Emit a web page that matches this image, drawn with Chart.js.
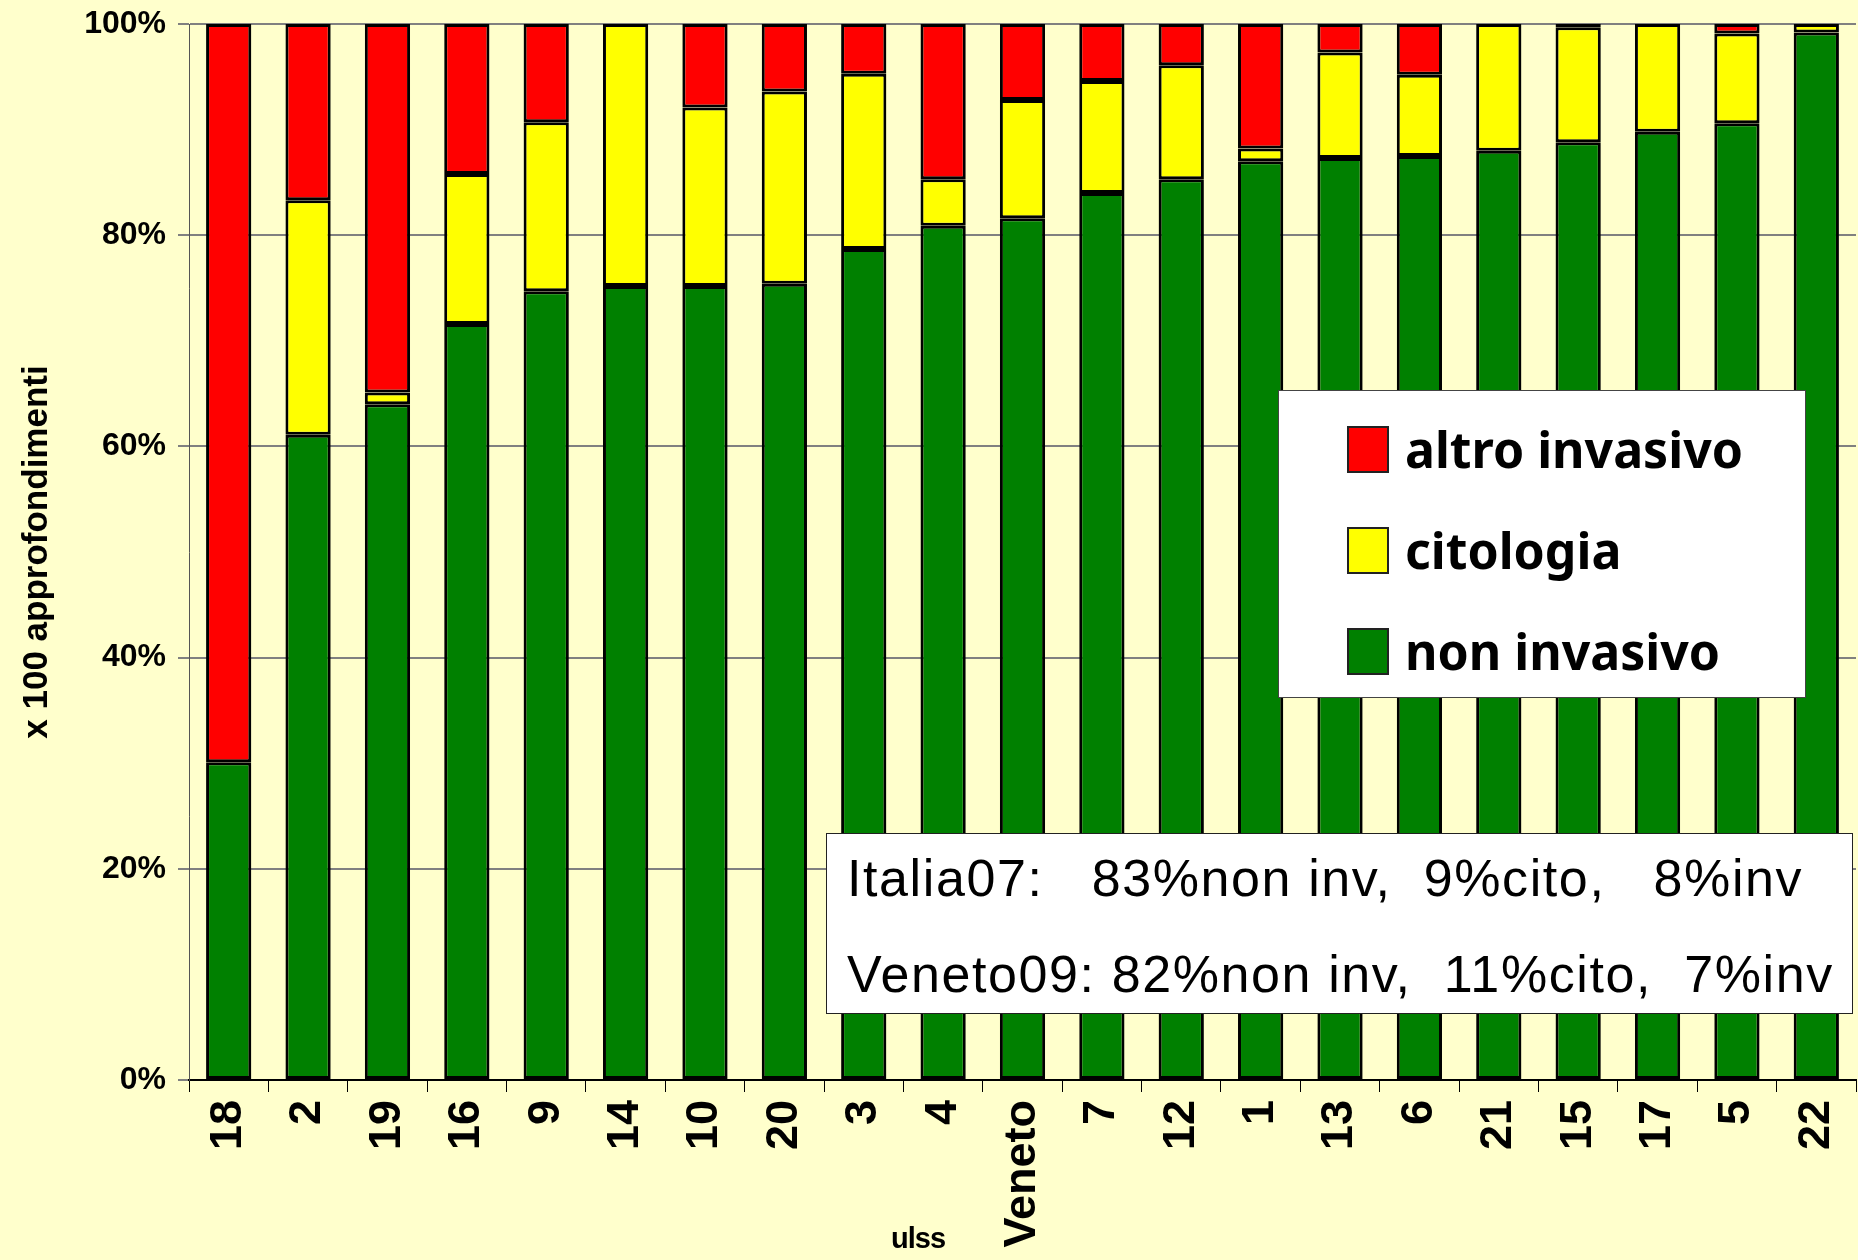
<!DOCTYPE html>
<html lang="it">
<head>
    <meta charset="UTF-8">
    <title>Approfondimenti per ulss</title>
    <script src="https://cdn.jsdelivr.net/npm/chart.js"></script>
    <style>
        body {
            margin: 0;
            padding: 0;
            background-color: #FFFFCC;
        }

        .wrap {
            position: relative;
            width: 1858px;
            height: 1260px;
        }

        #ulssChart {
            position: absolute;
            left: 0;
            top: 0;
        }

        /* legend box inside the plot */
        .legend {
            position: absolute;
            left: 1278px;
            top: 390px;
            width: 526px;
            height: 306px;
            background: #fff;
            border: 1px solid #444;
            font-family: 'Noto Sans', sans-serif;
            font-weight: bold;
            font-size: 50px;
        }

        .legend .item {
            position: absolute;
            left: 68px;
            height: 48px;
            display: flex;
            align-items: center;
        }

        .legend .swatch {
            width: 38px;
            height: 43px;
            border: 2px solid #222;
            margin-right: 16px;
        }

        /* note with the reference values */
        .note {
            position: absolute;
            left: 826px;
            top: 833px;
            width: 1025px;
            height: 179px;
            background: #fff;
            border: 1px solid #222;
            font-family: 'Liberation Sans', sans-serif;
            font-size: 52px;
            letter-spacing: 1.6px;
            white-space: pre;
        }

        .note div {
            position: absolute;
            left: 20px;
        }

        .xtitle {
            position: absolute;
            left: 918px;
            top: 1238px;
            transform: translate(-50%, -50%);
            font-family: 'Liberation Sans', sans-serif;
            font-weight: bold;
            font-size: 29px;
            letter-spacing: -1px;
        }
    </style>
</head>

<body>

<div class="wrap">
    <canvas id="ulssChart" width="1858" height="1260"></canvas>
    <div class="legend" id="legend"></div>
    <div class="note">
        <div style="top: 14px">Italia07:   83%non inv,  9%cito,   8%inv</div>
        <div style="top: 110px">Veneto09: 82%non inv,  11%cito,  7%inv</div>
    </div>
    <div class="xtitle">ulss</div>
</div>

<script>
    // categories (ulss) sorted by share of non invasive
    const ulssLabels = ['18', '2', '19', '16', '9', '14', '10', '20', '3', '4', 'Veneto',
        '7', '12', '1', '13', '6', '21', '15', '17', '5', '22'];

    // percentages
    const nonInvasivo = [30.1, 61.1, 64.0, 71.6, 74.7, 75.2, 75.2, 75.4, 78.7, 80.9, 81.6,
        84.0, 85.3, 87.0, 87.3, 87.5, 88.0, 88.8, 89.8, 90.6, 99.2];
    const citologia = [0, 22.2, 1.1, 14.2, 16.0, 24.8, 16.9, 18.2, 16.6, 4.4, 11.2,
        10.6, 10.8, 1.2, 10.0, 7.7, 12.0, 10.9, 10.2, 8.5, 0.8];
    const altroInvasivo = [69.9, 16.7, 34.9, 14.2, 9.3, 0, 7.9, 6.4, 4.7, 14.7, 7.2,
        5.4, 3.9, 11.8, 2.7, 4.8, 0, 0.3, 0, 0.9, 0];

    const yTicks = [0, 20, 40, 60, 80, 100];

    const series = [
        { label: 'non invasivo', data: nonInvasivo, color: '#008000' },
        { label: 'citologia', data: citologia, color: '#FFFF00' },
        { label: 'altro invasivo', data: altroInvasivo, color: '#FF0000' }
    ];

    const ctx = document.getElementById('ulssChart').getContext('2d');
    const ulssChart = new Chart(ctx, {
        type: 'bar',
        data: {
            labels: ulssLabels,
            datasets: series.map(s => ({
                label: s.label,
                data: s.data,
                backgroundColor: s.color,
                borderColor: '#000',
                borderWidth: 3,
                borderSkipped: false,
                barPercentage: 0.57,
                categoryPercentage: 1.0
            }))
        },
        options: {
            responsive: false,
            animation: false,
            layout: { padding: { top: 24, right: 2, left: 0, bottom: 0 } },
            plugins: {
                legend: { display: false },
                tooltip: { enabled: false }
            },
            scales: {
                x: {
                    stacked: true,
                    afterFit: scale => {
                        scale.height = 180;
                        // rotated labels should not shrink the plot sideways
                        scale.paddingLeft = 0;
                        scale.paddingRight = 0;
                    },
                    grid: {
                        offset: true,
                        drawOnChartArea: false,
                        drawTicks: true,
                        tickLength: 12,
                        color: '#000',
                        lineWidth: 1
                    },
                    border: { color: '#000', width: 2 },
                    ticks: {
                        autoSkip: false,
                        minRotation: 90,
                        maxRotation: 90,
                        padding: 8,
                        color: '#000',
                        font: { family: 'Liberation Sans', weight: 'bold', size: 45 }
                    }
                },
                y: {
                    stacked: true,
                    min: 0,
                    max: 100,
                    afterFit: scale => {
                        scale.width = 189;
                        scale.paddingTop = 0;
                        scale.paddingBottom = 0;
                    },
                    afterBuildTicks: scale => {
                        scale.ticks = yTicks.map(v => ({ value: v }));
                    },
                    grid: {
                        color: '#808080',
                        lineWidth: 2,
                        tickLength: 11
                    },
                    border: { color: '#555', width: 1 },
                    ticks: {
                        padding: 12,
                        color: '#000',
                        font: { family: 'Liberation Sans', weight: 'bold', size: 32 },
                        callback: v => v + '%'
                    },
                    title: {
                        display: true,
                        text: 'x 100 approfondimenti',
                        color: '#000',
                        padding: { top: 16, bottom: 0 },
                        font: { family: 'Liberation Sans', weight: 'bold', size: 35 }
                    }
                }
            }
        }
    });

    // legend built from the same series, top entry first
    const legend = document.getElementById('legend');
    const rowTops = [34, 135, 236];
    series.slice().reverse().forEach((s, i) => {
        const item = document.createElement('div');
        item.className = 'item';
        item.style.top = rowTops[i] + 'px';
        const sw = document.createElement('div');
        sw.className = 'swatch';
        sw.style.background = s.color;
        const txt = document.createElement('span');
        txt.textContent = s.label;
        item.appendChild(sw);
        item.appendChild(txt);
        legend.appendChild(item);
    });
</script>
</body>
</html>
